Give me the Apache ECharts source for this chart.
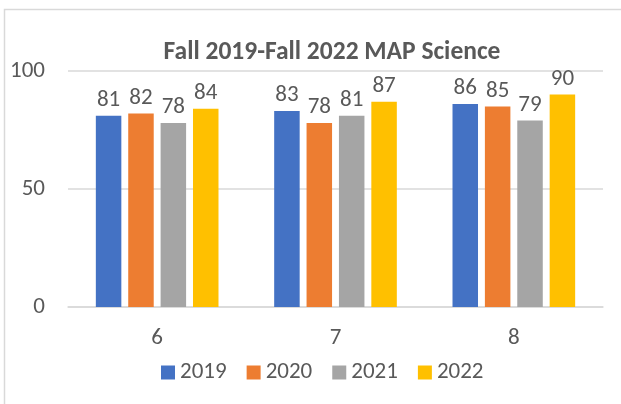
<!DOCTYPE html>
<html>
<head>
<meta charset="utf-8">
<script src="https://cdn.jsdelivr.net/npm/echarts@6/dist/echarts.min.js"></script>
<style>
  html, body { margin: 0; padding: 0; background: #fff; }
  #main { width: 621px; height: 404px; }
</style>
</head>
<body>
<div id="main"></div>
<script>
var grades = ['6', '7', '8']
var years = ['2019', '2020', '2021', '2022']
var colors = ['#4472C4', '#ED7D31', '#A5A5A5', '#FFC000']
var s2019 = [81, 83, 86]
var s2020 = [82, 78, 85]
var s2021 = [78, 81, 79]
var s2022 = [84, 87, 90]
var yTicks = [0, 50, 100]

var font = 'Carlito, Lato, sans-serif'
var txt = '#595959'

var myChart = echarts.init(document.getElementById('main'))

var seriesData = [s2019, s2020, s2021, s2022]

var option = {
	animation: false,
	color: colors,
	graphic: [
		{
			// outer chart frame
			type: 'rect',
			shape: { x: 4.5, y: 9.5, width: 640, height: 420 },
			style: { fill: 'none', stroke: '#d9d9d9', lineWidth: 1.5 },
		},
	],
	title: {
		text: 'Fall 2019-Fall 2022 MAP Science',
		left: 327,
		textAlign: 'center',
		top: 35,
		textStyle: { fontFamily: font, fontSize: 25.5, fontWeight: 'bold', color: txt },
	},
	legend: {
		data: years,
		top: 356,
		left: 156,
		itemWidth: 14,
		itemHeight: 14,
		itemGap: 20,
		icon: 'rect',
		textStyle: { fontFamily: font, fontSize: 23, color: txt },
	},
	grid: {
		left: 68,
		right: 18,
		top: 71,
		bottom: 97,
		containLabel: false,
	},
	xAxis: {
		type: 'category',
		data: grades,
		axisLine: { lineStyle: { color: '#d9d9d9', width: 1.5 } },
		axisTick: { show: false },
		axisLabel: { fontFamily: font, fontSize: 23, color: txt, margin: 20 },
	},
	yAxis: {
		type: 'value',
		min: yTicks[0],
		max: yTicks[yTicks.length - 1],
		interval: 50,
		axisLine: { show: false },
		axisTick: { show: false },
		splitLine: { lineStyle: { color: '#d9d9d9', width: 1.5 } },
		axisLabel: { fontFamily: font, fontSize: 23, color: txt, margin: 23 },
	},
	series: years.map(function (y, i) {
		return {
			name: y,
			type: 'bar',
			data: seriesData[i],
			barWidth: 25.5,
			barGap: '27%',
			label: {
				show: true,
				position: 'top',
				distance: 4,
				fontFamily: font,
				fontSize: 23,
				color: txt,
			},
		}
	}),
}
myChart.setOption(option)
</script>
</body>
</html>
